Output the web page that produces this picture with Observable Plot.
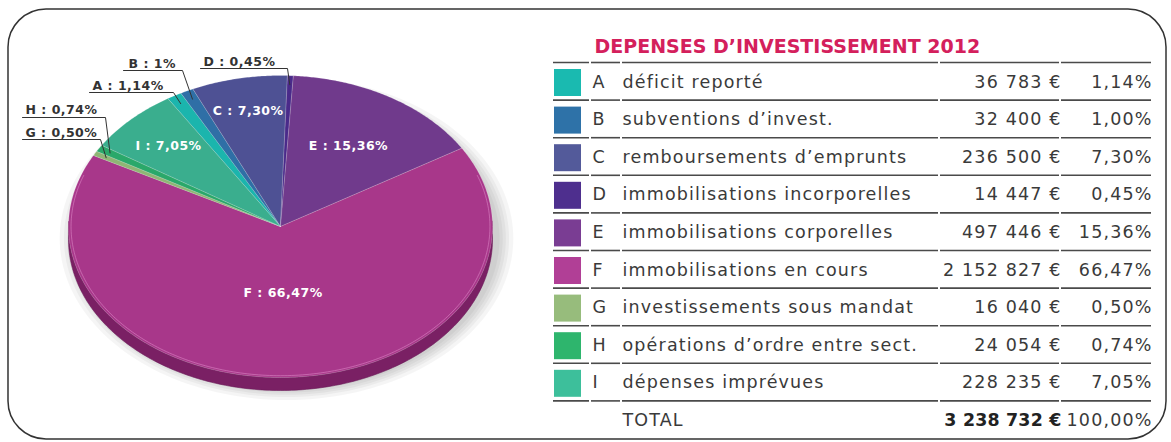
<!DOCTYPE html>
<html><head><meta charset="utf-8">
<script src="https://cdn.jsdelivr.net/npm/d3@7"></script>
<script src="https://cdn.jsdelivr.net/npm/@observablehq/plot@0.6"></script>
<style>
html,body{margin:0;padding:0;background:#fff;}
svg [font-size="17.5"]{letter-spacing:1.15px;}
svg [font-size="17.4"]{letter-spacing:0.2px;}
svg [font-size="12.5"]{letter-spacing:0.5px;}
</style></head><body><div id="chart"></div>
<script>
// ---------- DATA ----------
const title = "DEPENSES D\u2019INVESTISSEMENT 2012";
const letters = ["A","B","C","D","E","F","G","H","I"];
const descriptions = [
  "déficit reporté",
  "subventions d\u2019invest.",
  "remboursements d\u2019emprunts",
  "immobilisations incorporelles",
  "immobilisations corporelles",
  "immobilisations en cours",
  "investissements sous mandat",
  "opérations d\u2019ordre entre sect.",
  "dépenses imprévues"
];
const amounts = [36783, 32400, 236500, 14447, 497446, 2152827, 16040, 24054, 228235];
const percents = [1.14, 1.00, 7.30, 0.45, 15.36, 66.47, 0.50, 0.74, 7.05];
const sliceLabels = ["A : 1,14%","B : 1%","C : 7,30%","D : 0,45%","E : 15,36%","F : 66,47%","G : 0,50%","H : 0,74%","I : 7,05%"];
const totalLabel = "TOTAL";
const totalPercent = "100,00%";
const pieColors = ["#1bb5ad","#2f6fa6","#4e5194","#4a2a8a","#703a8c","#a8378a","#8fb575","#2aa86a","#3aae8e"];
const swatchColors = ["#1abab0","#2e72a8","#535a9a","#4e2f8e","#7a3d93","#b13f96","#97bc7c","#2eb56d","#3dbf9b"];

// ---------- LAYOUT ----------
const W = 1171, H = 442;
const cx = 280, cy = 226, rx = 212, ry = 151, depth = 13, startDeg = -32.1;
const insideLabelR = {C: 0.78, E: 0.62, I: 0.75, F: 0.44};
const outsideLabels = {
  B: {x: 128, y: 67, ux0: 123, ux1: 182, uy: 70},
  D: {x: 203, y: 65, ux0: 200, ux1: 287, uy: 68},
  A: {x: 92,  y: 89, ux0: 89,  ux1: 173, uy: 92},
  H: {x: 25,  y: 113, ux0: 22, ux1: 105, uy: 117},
  G: {x: 25,  y: 136, ux0: 22, ux1: 100, uy: 139}
};
const tableTop = 62, rowH = 37.6;
const colSegs = [[553,589],[591,620],[622,938],[940,1059],[1061,1151]];

// ---------- helpers ----------
const loc = d3.formatLocale({decimal: ",", thousands: "\u00a0", grouping: [3], currency: ["", ""]});
const fmtInt = loc.format(",d");
const fmtPct = v => d3.format(".2f")(v).replace(".", ",") + "%";
const total = d3.sum(amounts);
function pt(deg, k = 1, dx = 0, dy = 0) {
  const a = deg * Math.PI / 180;
  return {x: cx + dx + rx * k * Math.sin(a), y: cy + dy - ry * k * Math.cos(a)};
}

// slices
const slices = [];
let acc = startDeg;
amounts.forEach((v, i) => {
  const span = v / total * 360;
  slices.push({id: letters[i], a0: acc, a1: acc + span, mid: acc + span / 2, color: pieColors[i], label: sliceLabels[i]});
  acc += span;
});
const pieData = [];
slices.forEach(s => {
  pieData.push({id: s.id, x: cx, y: cy, color: s.color});
  const n = Math.max(2, Math.ceil((s.a1 - s.a0) / 0.5));
  for (let j = 0; j <= n; j++) {
    const p = pt(s.a0 + (s.a1 - s.a0) * j / n);
    pieData.push({id: s.id, x: p.x, y: p.y, color: s.color});
  }
  pieData.push({id: s.id, x: cx, y: cy, color: s.color});
});

// shadow rings
const shadowData = [];
[1.07, 1.05, 1.035, 1.02, 1.005].forEach((k, r) => {
  for (let d = 0; d <= 360; d += 2) {
    const p = pt(d, k, 6, 12);
    shadowData.push({ring: r, x: p.x, y: p.y});
  }
});
// side (front band)
const sideData = [];
for (let d = 88; d <= 272; d += 1) { const p = pt(d); sideData.push({x: p.x, y: p.y}); }
for (let d = 272; d >= 88; d -= 1) { const p = pt(d, 1, 0, depth); sideData.push({x: p.x, y: p.y}); }
// rim highlight
const rimData = [];
for (let d = 70; d <= 290; d += 1) { const p = pt(d, 0.988); rimData.push({x: p.x, y: p.y}); }

// inside labels
const insideData = slices.filter(s => insideLabelR[s.id] != null).map(s => {
  const p = pt(s.mid, insideLabelR[s.id]);
  return {x: p.x, y: p.y, text: s.label};
});
// outside labels + leaders
const outsideData = [], leaderData = [];
slices.filter(s => outsideLabels[s.id]).forEach(s => {
  const L = outsideLabels[s.id];
  outsideData.push({x: L.x, y: L.y, text: s.label});
  const t = pt(s.mid, 0.94);
  leaderData.push({id: s.id, x: L.ux0, y: L.uy});
  leaderData.push({id: s.id, x: L.ux1, y: L.uy});
  leaderData.push({id: s.id, x: t.x, y: t.y});
});

// table
const rows = letters.map((l, i) => ({
  top: tableTop + i * rowH, letter: l, desc: descriptions[i],
  amount: fmtInt(amounts[i]) + "\u00a0€", pct: fmtPct(percents[i]), color: swatchColors[i]
}));
const totalRow = {top: tableTop + letters.length * rowH, desc: totalLabel, amount: fmtInt(total) + "\u00a0€", pct: totalPercent};
const ruleData = [];
for (let i = 0; i <= letters.length; i++) {
  colSegs.forEach(([a, b]) => ruleData.push({y: tableTop + i * rowH, x1: a, x2: b}));
}
const frameBox = [{x1: 8, x2: 1166, y1: 9, y2: 439}];

const tf = "DejaVu Sans, sans-serif";
const txt = "#3a3a3a";

const chart = Plot.plot({
  width: W, height: H, margin: 0,
  x: {domain: [0, W], range: [0, W], axis: null},
  y: {domain: [0, H], range: [0, H], axis: null},
  color: {type: "identity"},
  style: {background: "#fff"},
  marks: [
    Plot.rect(frameBox, {x1: "x1", x2: "x2", y1: "y1", y2: "y2", rx: 38, fill: "none", stroke: "#333", strokeWidth: 1.5}),
    Plot.line(shadowData, {x: "x", y: "y", z: "ring", fill: "#000", fillOpacity: 0.04, stroke: "none", curve: "linear"}),
    Plot.line(sideData, {x: "x", y: "y", fill: "#7a2064", stroke: "#6a1a57", strokeWidth: 0.6, curve: "linear"}),
    Plot.line(pieData, {x: "x", y: "y", z: "id", fill: "color", stroke: "#ffffff", strokeOpacity: 0.22, strokeWidth: 0.8, curve: "linear"}),
    Plot.line(rimData, {x: "x", y: "y", stroke: "#e08ccb", strokeOpacity: 0.55, strokeWidth: 1, fill: "none", curve: "linear"}),
    Plot.text(insideData, {x: "x", y: "y", text: "text", fill: "#fff", fontSize: 12.5, fontWeight: "bold", fontFamily: tf}),
    Plot.line(leaderData, {x: "x", y: "y", z: "id", stroke: "#333", strokeWidth: 1, curve: "linear"}),
    Plot.text(outsideData, {x: "x", y: "y", text: "text", fill: "#333", fontSize: 12.5, fontWeight: "bold", fontFamily: tf, textAnchor: "start", lineAnchor: "bottom"}),
    // table
    Plot.text([title], {x: 594, y: 52, text: d => d, fill: "#d4205c", fontSize: 19, fontWeight: "bold", fontFamily: tf, textAnchor: "start", lineAnchor: "bottom"}),
    Plot.ruleY(ruleData, {y: "y", x1: "x1", x2: "x2", stroke: "#4a4a4a", strokeWidth: 1.6}),
    Plot.rect(rows, {x1: 554, x2: 581, y1: d => d.top + 7, y2: d => d.top + 34, fill: "color"}),
    Plot.text(rows, {x: 592, y: d => d.top + 25, text: "letter", fill: txt, fontSize: 17.5, fontFamily: tf, textAnchor: "start", lineAnchor: "bottom"}),
    Plot.text(rows, {x: 622, y: d => d.top + 25, text: "desc", fill: txt, fontSize: 17.5, fontFamily: tf, textAnchor: "start", lineAnchor: "bottom"}),
    Plot.text(rows, {x: 1061, y: d => d.top + 25, text: "amount", fill: txt, fontSize: 17.5, fontFamily: tf, textAnchor: "end", lineAnchor: "bottom"}),
    Plot.text(rows, {x: 1152, y: d => d.top + 25, text: "pct", fill: txt, fontSize: 17.5, fontFamily: tf, textAnchor: "end", lineAnchor: "bottom"}),
    Plot.text([totalRow], {x: 622, y: d => d.top + 25, text: "desc", fill: txt, fontSize: 17.5, fontFamily: tf, textAnchor: "start", lineAnchor: "bottom"}),
    Plot.text([totalRow], {x: 1061, y: d => d.top + 25, text: "amount", fill: "#222", fontSize: 17.4, fontWeight: "bold", fontFamily: tf, textAnchor: "end", lineAnchor: "bottom"}),
    Plot.text([totalRow], {x: 1152, y: d => d.top + 25, text: "pct", fill: txt, fontSize: 17.5, fontFamily: tf, textAnchor: "end", lineAnchor: "bottom"})
  ]
});
document.getElementById("chart").appendChild(chart);
</script></body></html>
